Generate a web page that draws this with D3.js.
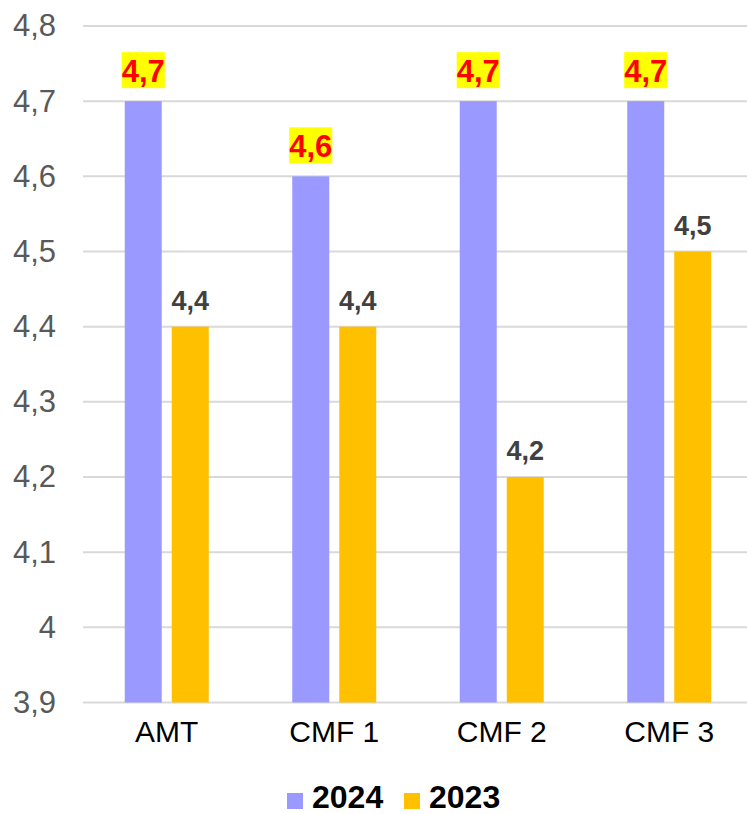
<!DOCTYPE html>
<html>
<head>
<meta charset="utf-8">
<script src="https://cdn.jsdelivr.net/npm/d3@7"></script>
<style>
  body { margin: 0; background: #fff; }
  svg { display: block; font-family: "Liberation Sans", Arial, sans-serif; }
</style>
</head>
<body>
<svg id="chart" width="747" height="814"></svg>
<script>
// data
const categories = ["AMT", "CMF 1", "CMF 2", "CMF 3"];
const seriesNames = ["2024", "2023"];
const values2024 = [4.7, 4.6, 4.7, 4.7];
const values2023 = [4.4, 4.4, 4.2, 4.5];
const yTicks = [3.9, 4, 4.1, 4.2, 4.3, 4.4, 4.5, 4.6, 4.7, 4.8];
const colors = { "2024": "#9999ff", "2023": "#ffc000" };

const rows = categories.map((c, i) => ({
    cat: c,
    vals: [
        { key: "2024", v: values2024[i] },
        { key: "2023", v: values2023[i] }
    ]
}));

const svg = d3.select("#chart");
const fmt = v => String(v).replace(".", ",");

// scales
const x0 = d3.scaleBand().domain(categories).range([83, 753]);
const groupW = 84;
const x1 = d3.scaleBand().domain(seriesNames).range([0, groupW]).paddingInner(0.213);
const y = d3.scaleLinear().domain([3.9, 4.8]).range([702.5, 26]);

// gridlines
svg.append("g")
    .selectAll("line")
    .data(yTicks)
    .join("line")
    .attr("x1", 83)
    .attr("x2", 753)
    .attr("y1", d => y(d))
    .attr("y2", d => y(d))
    .attr("stroke", "#d9d9d9")
    .attr("stroke-width", 2);

// y axis labels
const yAxis = svg.append("g")
    .attr("transform", "translate(56,0)")
    .call(d3.axisLeft(y).tickValues(yTicks).tickFormat(fmt).tickSize(0).tickPadding(0));
yAxis.select(".domain").remove();
yAxis.selectAll("text")
    .attr("font-size", 31)
    .attr("font-family", "Liberation Sans, Arial, sans-serif")
    .attr("fill", "#595959");

// x axis labels
const xAxis = svg.append("g")
    .attr("transform", "translate(0,721)")
    .call(d3.axisBottom(x0).tickSize(0).tickPadding(0));
xAxis.select(".domain").remove();
xAxis.selectAll("text")
    .attr("font-size", 30)
    .attr("font-family", "Liberation Sans, Arial, sans-serif")
    .attr("fill", "#000")
    .attr("dy", "0.71em");

// bars
const groups = svg.append("g")
    .selectAll("g")
    .data(rows)
    .join("g")
    .attr("transform", d => `translate(${x0(d.cat) + (x0.bandwidth() - groupW) / 2},0)`);

groups.selectAll("rect")
    .data(d => d.vals)
    .join("rect")
    .attr("x", d => x1(d.key))
    .attr("width", x1.bandwidth())
    .attr("y", d => y(d.v))
    .attr("height", d => y(3.9) - y(d.v))
    .attr("fill", d => colors[d.key]);

// labels 2023 (grey)
groups.selectAll("text.lab23")
    .data(d => d.vals.filter(v => v.key === "2023"))
    .join("text")
    .attr("class", "lab23")
    .attr("x", d => x1(d.key) + x1.bandwidth() / 2)
    .attr("y", d => y(d.v) - 17)
    .attr("text-anchor", "middle")
    .attr("font-size", 27)
    .attr("font-weight", "bold")
    .attr("fill", "#404040")
    .text(d => fmt(d.v));

// labels 2024 (red on yellow)
groups.each(function(d) {
    const g = d3.select(this);
    const v = d.vals[0];
    const cx = x1(v.key) + x1.bandwidth() / 2;
    const by = y(v.v) - 19;
    const bg = g.append("rect").attr("fill", "#ffff00");
    const t = g.append("text")
        .attr("x", cx)
        .attr("y", by)
        .attr("text-anchor", "middle")
        .attr("font-size", 31)
        .attr("font-weight", "bold")
        .attr("fill", "#ff0000")
        .text(fmt(v.v));
    const bb = t.node().getBBox();
    bg.attr("x", bb.x)
        .attr("y", by - 30)
        .attr("width", bb.width)
        .attr("height", 36);
});

// legend
const legend = svg.append("g").attr("transform", "translate(287,793)");
const items = legend.selectAll("g")
    .data(seriesNames)
    .join("g")
    .attr("transform", (d, i) => `translate(${i * 117},0)`);
items.append("rect")
    .attr("width", 16)
    .attr("height", 16)
    .attr("fill", d => colors[d]);
items.append("text")
    .attr("x", 25)
    .attr("y", 15)
    .attr("font-size", 32)
    .attr("font-weight", "bold")
    .attr("fill", "#000")
    .text(d => d);
</script>
</body>
</html>
